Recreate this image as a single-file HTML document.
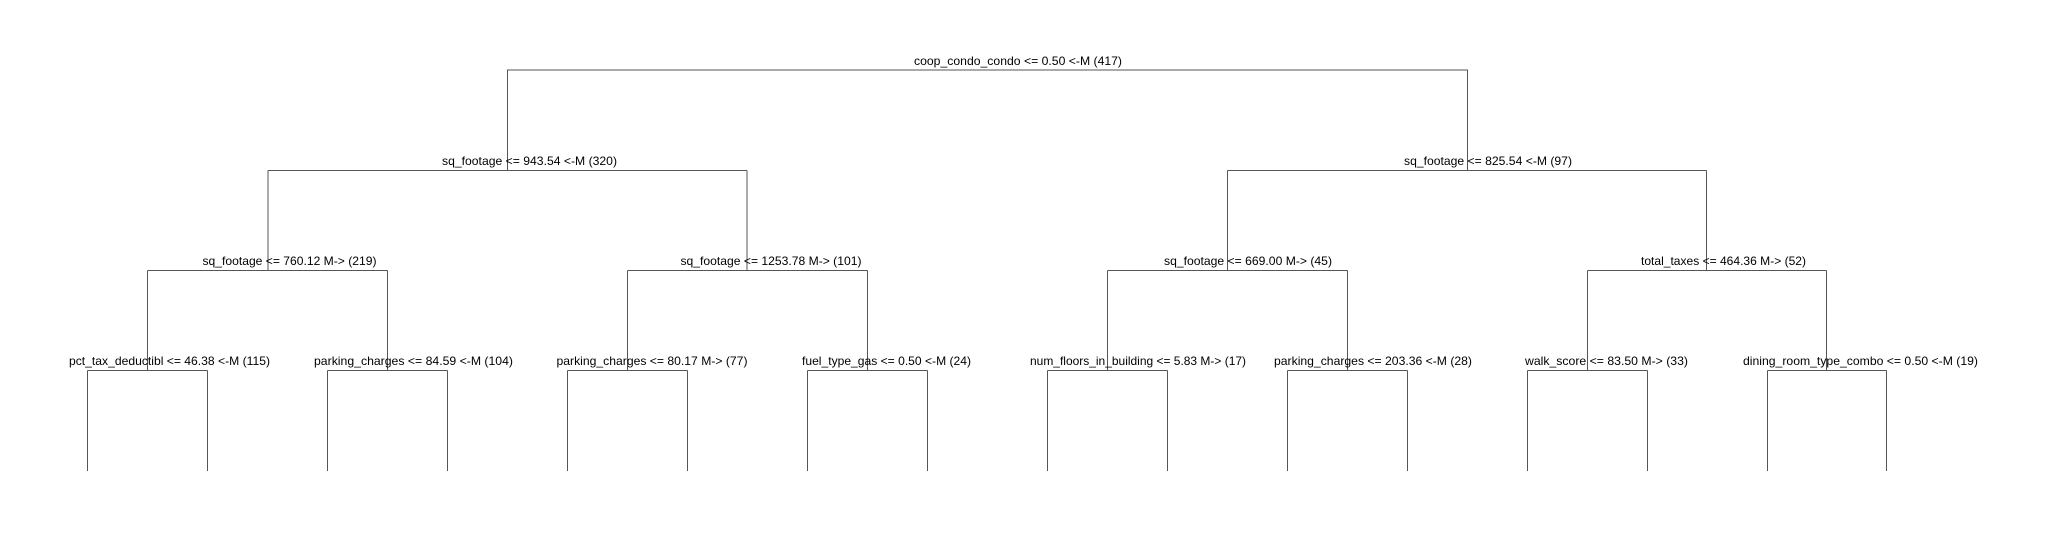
<!DOCTYPE html>
<html><head><meta charset="utf-8"><style>
html,body{margin:0;padding:0;background:#fff;}
svg{display:block;}
text{font-family:"Liberation Sans",Arial,sans-serif;font-size:12px;fill:#000;}
</style></head><body>
<svg width="2047" height="540" viewBox="0 0 2047 540" xmlns="http://www.w3.org/2000/svg">
<g stroke="#555" stroke-width="1.2" fill="none" shape-rendering="crispEdges">
<path d="M507.5 170.5V70H1467.5V170.5"/>
<path d="M268 170.5H747M1227.5 170.5H1706.5"/>
<path d="M147.5 270.5H387.5M627.5 270.5H867.5M1107.5 270.5H1347.5M1587.5 270.5H1826.5"/>
<path d="M87.5 370.5H207.5M327.5 370.5H447.5M567.5 370.5H687.5M807.5 370.5H927.5M1047.5 370.5H1167.5M1287.5 370.5H1407.5M1527.5 370.5H1647.5M1767.5 370.5H1886.5"/>
<path d="M268 170.5V270.5M747 170.5V270.5M1227.5 170.5V270.5M1706.5 170.5V270.5"/>
<path d="M147.5 270.5V370.5M387.5 270.5V370.5M627.5 270.5V370.5M867.5 270.5V370.5M1107.5 270.5V370.5M1347.5 270.5V370.5M1587.5 270.5V370.5M1826.5 270.5V370.5"/>
<path d="M87.5 370.5V471M207.5 370.5V471M327.5 370.5V471M447.5 370.5V471M567.5 370.5V471M687.5 370.5V471M807.5 370.5V471M927.5 370.5V471M1047.5 370.5V471M1167.5 370.5V471M1287.5 370.5V471M1407.5 370.5V471M1527.5 370.5V471M1647.5 370.5V471M1767.5 370.5V471M1886.5 370.5V471"/>
</g>
<text x="914" y="65" textLength="208" lengthAdjust="spacingAndGlyphs">coop_condo_condo &lt;= 0.50 &lt;-M (417)</text>
<text x="442" y="165" textLength="175" lengthAdjust="spacingAndGlyphs">sq_footage &lt;= 943.54 &lt;-M (320)</text>
<text x="1404" y="165" textLength="168" lengthAdjust="spacingAndGlyphs">sq_footage &lt;= 825.54 &lt;-M (97)</text>
<text x="202.5" y="265" textLength="174" lengthAdjust="spacingAndGlyphs">sq_footage &lt;= 760.12 M-&gt; (219)</text>
<text x="680.5" y="265" textLength="181" lengthAdjust="spacingAndGlyphs">sq_footage &lt;= 1253.78 M-&gt; (101)</text>
<text x="1164" y="265" textLength="168" lengthAdjust="spacingAndGlyphs">sq_footage &lt;= 669.00 M-&gt; (45)</text>
<text x="1641" y="265" textLength="165" lengthAdjust="spacingAndGlyphs">total_taxes &lt;= 464.36 M-&gt; (52)</text>
<text x="69" y="365" textLength="201" lengthAdjust="spacingAndGlyphs">pct_tax_deductibl &lt;= 46.38 &lt;-M (115)</text>
<text x="314" y="365" textLength="199" lengthAdjust="spacingAndGlyphs">parking_charges &lt;= 84.59 &lt;-M (104)</text>
<text x="556.5" y="365" textLength="191" lengthAdjust="spacingAndGlyphs">parking_charges &lt;= 80.17 M-&gt; (77)</text>
<text x="802" y="365" textLength="169" lengthAdjust="spacingAndGlyphs">fuel_type_gas &lt;= 0.50 &lt;-M (24)</text>
<text x="1030" y="365" textLength="216" lengthAdjust="spacingAndGlyphs">num_floors_in_building &lt;= 5.83 M-&gt; (17)</text>
<text x="1274" y="365" textLength="198" lengthAdjust="spacingAndGlyphs">parking_charges &lt;= 203.36 &lt;-M (28)</text>
<text x="1525" y="365" textLength="163" lengthAdjust="spacingAndGlyphs">walk_score &lt;= 83.50 M-&gt; (33)</text>
<text x="1743" y="365" textLength="235" lengthAdjust="spacingAndGlyphs">dining_room_type_combo &lt;= 0.50 &lt;-M (19)</text>
</svg>
</body></html>
